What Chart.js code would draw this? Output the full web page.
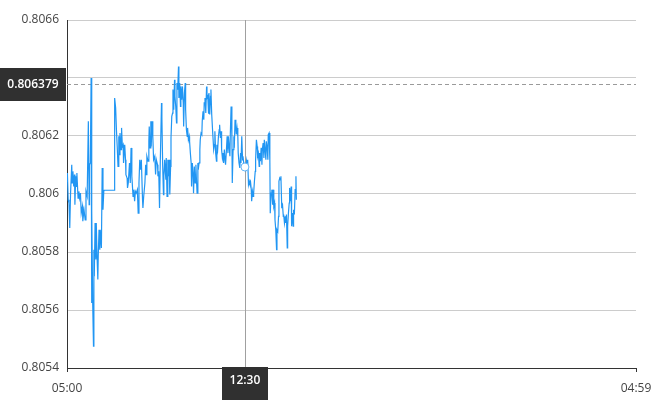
<!DOCTYPE html>
<html>
<head>
<meta charset="utf-8">
<script src="https://cdn.jsdelivr.net/npm/chart.js@4"></script>
<style>
  html, body { margin: 0; padding: 0; background: #ffffff; }
  #wrap { width: 670px; height: 400px; }
</style>
</head>
<body>
<div id="wrap"><canvas id="chart" width="670" height="400"></canvas></div>
<script>
// minutes after 05:00 for each quote
const minutes = [
  0, 1, 3, 5, 7, 9, 12, 13, 15, 17, 19, 20, 22, 24, 25, 28, 30, 32, 34, 36,
  39, 40, 43, 46, 48, 51, 54, 56, 57, 59, 61, 62, 63, 65, 67, 68, 69, 71, 73, 74,
  76, 78, 79, 81, 83, 84, 87, 89, 91, 93, 94, 119, 120, 121, 123, 125, 127, 129, 131, 132,
  134, 137, 138, 140, 142, 143, 146, 148, 149, 152, 153, 155, 158, 160, 162, 164, 167, 169, 171, 173,
  175, 178, 180, 182, 184, 186, 188, 191, 192, 194, 197, 199, 201, 202, 205, 207, 208, 210, 212, 213,
  215, 217, 219, 222, 224, 226, 229, 230, 232, 234, 236, 239, 240, 242, 244, 245, 247, 250, 251, 253,
  255, 257, 258, 260, 262, 263, 265, 267, 268, 270, 272, 273, 275, 277, 278, 280, 282, 283, 285, 287,
  288, 290, 292, 294, 295, 297, 299, 300, 302, 304, 305, 307, 309, 310, 312, 314, 315, 317, 319, 320,
  322, 324, 326, 327, 329, 331, 332, 334, 336, 337, 339, 341, 342, 344, 346, 347, 349, 351, 353, 354,
  356, 358, 359, 361, 363, 364, 366, 369, 371, 373, 374, 376, 378, 379, 381, 383, 385, 386, 388, 390,
  391, 393, 395, 396, 398, 400, 401, 403, 405, 407, 408, 412, 413, 415, 417, 418, 420, 422, 423, 425,
  427, 428, 430, 432, 433, 435, 437, 439, 440, 442, 444, 445, 447, 449, 450, 452, 454, 455, 457, 459,
  461, 462, 464, 466, 467, 469, 471, 472, 474, 476, 477, 479, 481, 482, 484, 486, 487, 489, 491, 493,
  494, 496, 498, 499, 501, 503, 504, 506, 508, 509, 511, 513, 514, 516, 518, 520, 521, 523, 525, 526,
  528, 530, 531, 533, 535, 536, 538, 540, 541, 543, 545, 547, 548, 550, 552, 553, 555, 557, 558, 560,
  562, 563, 565, 567, 568, 570, 572, 573, 575, 577, 579, 580
];

const prices = [
  0.806044, 0.806072, 0.805980, 0.805969, 0.805883, 0.806003, 0.806101, 0.806038, 0.806078, 0.806026,
  0.806067, 0.805963, 0.806061, 0.806026, 0.806072, 0.805986, 0.806009, 0.805986, 0.806003, 0.805934,
  0.805957, 0.805906, 0.805946, 0.805911, 0.806009, 0.805992, 0.806251, 0.805963, 0.806101, 0.806107,
  0.806400, 0.805624, 0.805946, 0.805624, 0.805475, 0.805808, 0.805716, 0.805900, 0.805774, 0.805900,
  0.805785, 0.805705, 0.805785, 0.805877, 0.805808, 0.805877, 0.805814, 0.806090, 0.805946, 0.806009,
  0.806013, 0.806013, 0.806262, 0.806331, 0.806297, 0.806222, 0.806164, 0.806095, 0.806199, 0.806136,
  0.806210, 0.806153, 0.806228, 0.806164, 0.806170, 0.806107, 0.806170, 0.806118, 0.806067, 0.806055,
  0.806021, 0.806038, 0.806107, 0.806038, 0.806159, 0.806061, 0.805992, 0.806015, 0.805975, 0.806009,
  0.806003, 0.806015, 0.805934, 0.806038, 0.806118, 0.806084, 0.806118, 0.805980, 0.805952, 0.805992,
  0.806038, 0.806101, 0.806067, 0.806130, 0.806113, 0.806182, 0.806233, 0.806159, 0.806251, 0.806164,
  0.806251, 0.806199, 0.806118, 0.806130, 0.806067, 0.806118, 0.806101, 0.806061, 0.806078, 0.805952,
  0.806118, 0.806314, 0.806262, 0.806095, 0.805998, 0.806061, 0.806118, 0.806049, 0.806124, 0.805992,
  0.806118, 0.806061, 0.806118, 0.805998, 0.806095, 0.806193, 0.806268, 0.806279, 0.806360, 0.806291,
  0.806394, 0.806337, 0.806302, 0.806245, 0.806383, 0.806360, 0.806440, 0.806331, 0.806383, 0.806302,
  0.806371, 0.806325, 0.806371, 0.806314, 0.806233, 0.806348, 0.806383, 0.806291, 0.806222, 0.806199,
  0.806228, 0.806187, 0.806199, 0.806182, 0.806141, 0.806107, 0.806026, 0.806107, 0.806061, 0.806003,
  0.806095, 0.806038, 0.806101, 0.806061, 0.806003, 0.806107, 0.806084, 0.806107, 0.806153, 0.806187,
  0.806210, 0.806205, 0.806251, 0.806285, 0.806256, 0.806314, 0.806331, 0.806279, 0.806371, 0.806331,
  0.806337, 0.806279, 0.806348, 0.806274, 0.806337, 0.806360, 0.806274, 0.806199, 0.806153, 0.806170,
  0.806216, 0.806141, 0.806113, 0.806170, 0.806153, 0.806199, 0.806222, 0.806239, 0.806193, 0.806216,
  0.806153, 0.806124, 0.806141, 0.806107, 0.806153, 0.806113, 0.806101, 0.806147, 0.806199, 0.806141,
  0.806199, 0.806130, 0.806205, 0.806302, 0.806199, 0.806038, 0.806153, 0.806199, 0.806159, 0.806256,
  0.806228, 0.806205, 0.806228, 0.806199, 0.806141, 0.806107, 0.806090, 0.806141, 0.806107, 0.806199,
  0.806118, 0.806130, 0.806107, 0.806095, 0.806093, 0.806084, 0.806113, 0.806101, 0.806118, 0.806032,
  0.806044, 0.806038, 0.806044, 0.806015, 0.805975, 0.806009, 0.805992, 0.806003, 0.806044, 0.806078,
  0.806118, 0.806187, 0.806164, 0.806130, 0.806141, 0.806095, 0.806141, 0.806113, 0.806159, 0.806101,
  0.806153, 0.806176, 0.806124, 0.806187, 0.806153, 0.806118, 0.806182, 0.806164, 0.806118, 0.806205,
  0.806210, 0.806118, 0.805934, 0.806003, 0.806015, 0.805963, 0.806015, 0.805957, 0.805969, 0.805911,
  0.805877, 0.805808, 0.805877, 0.805871, 0.805923, 0.806044, 0.806055, 0.806049, 0.806061, 0.805957,
  0.805963, 0.805923, 0.805929, 0.805900, 0.805923, 0.805900, 0.805929, 0.805814, 0.805889, 0.805934,
  0.805969, 0.806021, 0.805975, 0.806026, 0.805889, 0.805934, 0.805889, 0.805946, 0.805929, 0.806015,
  0.806061, 0.805980
];

const xTickValues = [0, 1439];
const xTickLabels = ['05:00', '04:59'];
const yTickValues = [0.8054, 0.8056, 0.8058, 0.806, 0.8062, 0.8064, 0.8066];

// crosshair + reference line
const crosshairMinute = 450;
const crosshairLabel = '12:30';
const refPrice = 0.806379;

const FONT = "'Open Sans', 'DejaVu Sans', sans-serif";
const LINE_COLOR = '#2196f3';

/**
 * Draws the dashed reference line, the crosshair and their label boxes
 */
const overlayPlugin = {
  id: 'overlay',
  beforeDatasetsDraw(chart) {
    const { ctx, chartArea, scales } = chart;
    const yRef = Math.round(scales.y.getPixelForValue(refPrice)) + 0.5;
    const xCross = Math.round(scales.x.getPixelForValue(crosshairMinute)) + 0.5;

    ctx.save();
    ctx.strokeStyle = '#9a9a9a';
    ctx.lineWidth = 1;
    ctx.setLineDash([4, 3]);
    ctx.beginPath();
    ctx.moveTo(chartArea.left, yRef);
    ctx.lineTo(chartArea.right, yRef);
    ctx.stroke();

    ctx.setLineDash([]);
    ctx.strokeStyle = '#a0a0a0';
    ctx.beginPath();
    ctx.moveTo(xCross, chartArea.top);
    ctx.lineTo(xCross, chartArea.bottom);
    ctx.stroke();
    ctx.restore();
  },
  afterDraw(chart) {
    const { ctx, chartArea, scales } = chart;
    const yRef = scales.y.getPixelForValue(refPrice);
    const xCross = scales.x.getPixelForValue(crosshairMinute);

    ctx.save();
    ctx.font = `600 12px ${FONT}`;
    ctx.textAlign = 'center';
    ctx.textBaseline = 'middle';

    // price box on the y axis
    const boxH = 33;
    ctx.fillStyle = '#303030';
    ctx.fillRect(0, Math.round(yRef - boxH / 2), Math.round(chartArea.left) - 1, boxH);
    ctx.fillStyle = '#ffffff';
    ctx.fillText(refPrice.toString(), (chartArea.left - 1) / 2, yRef);

    // time box on the x axis
    const boxW = 46;
    ctx.fillStyle = '#303030';
    ctx.fillRect(Math.round(xCross - boxW / 2), Math.round(chartArea.bottom) - 1, boxW, chart.height - chartArea.bottom + 1);
    ctx.fillStyle = '#ffffff';
    ctx.fillText(crosshairLabel, xCross, chartArea.bottom + 13);

    // hovered point
    const idx = minutes.indexOf(crosshairMinute);
    const pt = chart.getDatasetMeta(0).data[idx];
    if (pt) {
      ctx.beginPath();
      ctx.arc(pt.x, pt.y, 4, 0, Math.PI * 2);
      ctx.fillStyle = '#ffffff';
      ctx.fill();
      ctx.strokeStyle = '#64b5f6';
      ctx.lineWidth = 1;
      ctx.stroke();
    }
    ctx.restore();
  },
};

new Chart(document.getElementById('chart'), {
  type: 'line',
  data: {
    datasets: [{
      data: minutes.map((m, i) => ({ x: m, y: prices[i] })),
      borderColor: LINE_COLOR,
      borderWidth: 1.2,
      pointRadius: 0,
      tension: 0,
      fill: false,
    }],
  },
  options: {
    responsive: false,
    animation: false,
    devicePixelRatio: 1,
    layout: { padding: { top: 20, right: 34, left: 0, bottom: 0 } },
    plugins: {
      legend: { display: false },
      tooltip: { enabled: false },
    },
    scales: {
      x: {
        type: 'linear',
        min: 0,
        max: 1439,
        afterBuildTicks: (scale) => {
          scale.ticks = xTickValues.map((v) => ({ value: v }));
        },
        afterFit: (scale) => { scale.height = 32; },
        grid: {
          drawOnChartArea: false,
          drawTicks: true,
          tickLength: 4,
          color: '#333333',
        },
        border: { color: '#333333' },
        ticks: {
          autoSkip: false,
          maxRotation: 0,
          padding: 9,
          color: '#444444',
          font: { size: 12, family: FONT },
          callback: (value, index) => xTickLabels[index],
        },
      },
      y: {
        min: 0.8054,
        max: 0.8066,
        afterBuildTicks: (scale) => {
          scale.ticks = yTickValues.map((v) => ({ value: v }));
        },
        afterFit: (scale) => { scale.width = 67; },
        grid: {
          color: '#cccccc',
          drawTicks: false,
        },
        border: { color: '#333333' },
        ticks: {
          padding: 8,
          color: '#444444',
          font: { size: 12, family: FONT },
          callback: (value) => parseFloat(value.toFixed(4)).toString(),
        },
      },
    },
  },
  plugins: [overlayPlugin],
});
</script>
</body>
</html>
